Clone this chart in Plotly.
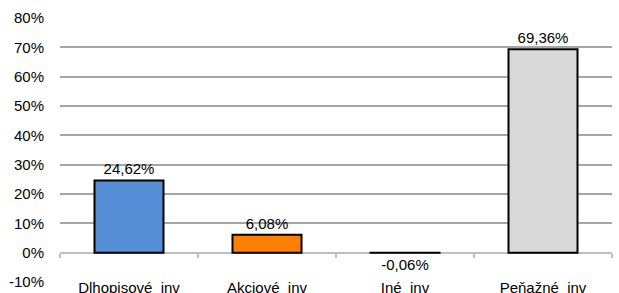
import plotly.graph_objects as go

categories = ["Dlhopisové  inv", "Akciové  inv", "Iné  inv", "Peňažné  inv"]
values = [24.62, 6.08, -0.06, 69.36]
colors = ["#558ED5", "#FF8000", "#D9D9D9", "#D9D9D9"]
y_ticks = [-10, 0, 10, 20, 30, 40, 50, 60, 70, 80]

labels = [f"{v:.2f}%".replace(".", ",") for v in values]
FONT = "Liberation Sans"
ymin, ymax = -10, 80

fig = go.Figure()
fig.add_trace(go.Bar(
    x=categories, y=values, marker=dict(color=colors, line=dict(color="#000000", width=2)),
    text=labels, textposition="outside", cliponaxis=False,
    textfont=dict(family=FONT, size=15, color="#000000"),
    width=0.5, showlegend=False, hoverinfo="skip",
))
# invisible trace carrying the category axis drawn at the 0% level
fig.add_trace(go.Scatter(x=categories, y=[0] * len(categories), xaxis="x2", mode="markers",
                         marker=dict(opacity=0), showlegend=False, hoverinfo="skip"))

fig.update_layout(
    template="none",
    width=619, height=293,
    margin=dict(l=60, r=7, t=18, b=11, autoexpand=False),
    paper_bgcolor="white", plot_bgcolor="white",
    font=dict(family=FONT, size=15, color="#000000"),
    xaxis=dict(type="category", showgrid=False, showline=False, ticks="",
               tickfont=dict(size=15), range=[-0.5, 3.5], ticklabelstandoff=-5),
    xaxis2=dict(type="category", overlaying="x", anchor="free",
                position=(0 - ymin) / (ymax - ymin), side="bottom",
                showline=True, linecolor="#BFBFBF", linewidth=2, layer="below traces",
                ticks="outside", ticklen=4, tickwidth=1.5, tickcolor="#BFBFBF",
                tickson="boundaries", showticklabels=False, showgrid=False,
                range=[-0.5, 3.5]),
    yaxis=dict(range=[ymin, ymax], tickmode="array", tickvals=y_ticks,
               ticktext=[f"{t}%" for t in y_ticks],
               showgrid=True, gridcolor="#A6A6A6", gridwidth=1.5, zeroline=False,
               showline=False, ticks="outside", ticklen=12, tickcolor="rgba(0,0,0,0)",
               tickfont=dict(size=15)),
)

fig.write_html("out.html", config={"displayModeBar": False},
               post_script="document.body.style.margin='0';")
